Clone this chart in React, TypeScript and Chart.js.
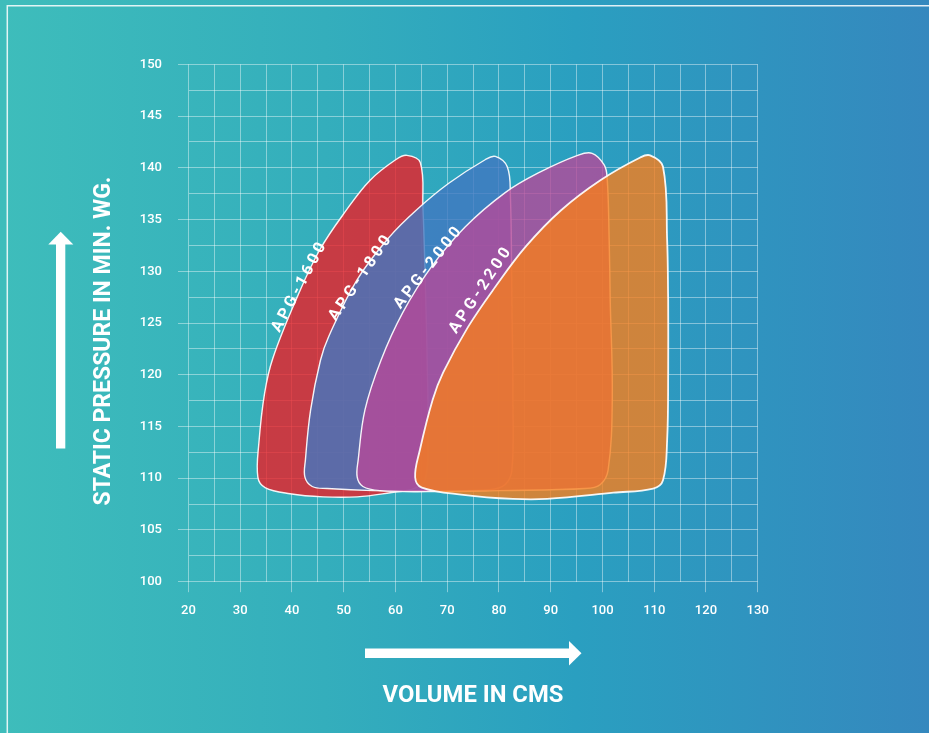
import React, { useEffect, useRef } from 'react';
import { Chart, registerables } from 'chart.js';

Chart.register(...registerables);

// Fan names
const seriesNames = ['APG-1600', 'APG-1800', 'APG-2000', 'APG-2200'];

// Outline of each operating region: [volume (CMS), static pressure (mm WG)]
const apg1600: [number, number][] = [
  [66.1, 122.4], [66.3, 113.7], [65.7, 109.8], [63.6, 109.0], [59.0, 108.6], [52.6, 108.2],
  [46.0, 108.2], [39.6, 108.5], [34.8, 109.1], [33.4, 110.1], [33.6, 113.4], [34.7, 118.2],
  [36.3, 121.6], [41.0, 127.5], [45.4, 132.1], [50.5, 135.9], [55.1, 138.8], [60.1, 140.8],
  [62.2, 141.2], [64.8, 140.5], [65.3, 136.2], [65.7, 130.2], [66.1, 122.4],
];
const apg1800: [number, number][] = [
  [82.5, 127.2], [82.7, 117.6], [82.5, 110.8], [81.2, 109.4], [78.3, 108.9], [66.7, 108.8],
  [55.7, 108.8], [46.8, 109.0], [43.9, 109.2], [42.5, 110.1], [42.6, 111.8], [43.6, 116.6],
  [45.5, 121.4], [47.1, 123.7], [52.6, 129.2], [58.8, 133.3], [64.0, 135.9], [70.3, 138.5],
  [77.4, 140.8], [79.3, 141.1], [81.6, 140.1], [82.2, 137.4], [82.5, 127.2],
];
const apg2000: [number, number][] = [
  [101.5, 127.2], [101.9, 117.6], [101.1, 110.8], [99.6, 109.4], [96.7, 109.0], [80.2, 108.8],
  [66.1, 108.7], [57.0, 108.8], [53.7, 109.2], [52.6, 110.1], [52.8, 111.8], [54.1, 116.6],
  [57.2, 121.4], [61.4, 126.0], [66.9, 130.4], [73.5, 134.3], [81.2, 137.6], [87.6, 139.5],
  [95.2, 141.2], [98.0, 141.4], [100.3, 140.3], [100.9, 139.1], [101.3, 133.0], [101.5, 127.2],
];
const apg2200: [number, number][] = [
  [112.7, 127.2], [112.7, 120.2], [112.5, 113.7], [111.7, 109.8], [109.8, 109.0], [102.1, 108.6],
  [89.3, 108.0], [82.7, 108.0], [73.1, 108.4], [65.1, 109.1], [63.8, 110.1], [64.7, 112.7],
  [67.2, 117.6], [69.2, 120.2], [74.0, 124.6], [79.3, 128.5], [85.2, 132.4], [92.0, 135.9],
  [99.6, 138.8], [107.3, 141.0], [109.2, 141.2], [111.7, 140.1], [112.5, 133.0], [112.7, 127.2],
];

const outlines = [apg1600, apg1800, apg2000, apg2200];

// Label anchors (in data units) and rotation for each fan name
const labelVolume = [41.1, 52.9, 66.0, 76.1];
const labelPressure = [128.5, 129.4, 130.4, 128.2];
const labelAngle = [-62, -56, -52, -56.5];

const xTitle = 'VOLUME IN CMS';
const yTitle = 'STATIC PRESSURE IN MIN. WG.';

const seriesColors = [
  'rgba(236,30,38,0.8)',
  'rgba(65,120,193,0.8)',
  'rgba(183,72,152,0.8)',
  'rgba(248,126,28,0.8)',
];

const W = 929;
const H = 733;

export default function App() {
  const ref = useRef<HTMLCanvasElement>(null);

  useEffect(() => {
    const canvas = ref.current;
    if (!canvas) return;
    const gridColor = 'rgba(255,255,255,0.42)';
    const font = 'Roboto, "Noto Sans", sans-serif';

    const decor = {
      id: 'decor',
      afterDatasetsDraw(chart: any) {
        const ctx = chart.ctx as CanvasRenderingContext2D;
        const xs = chart.scales.x;
        const ys = chart.scales.y;
        ctx.save();
        ctx.fillStyle = '#ffffff';
        ctx.font = `bold 16px ${font}`;
        ctx.textBaseline = 'alphabetic';
        ctx.textAlign = 'left';
        const spacing = 3.4;
        seriesNames.forEach((name, i) => {
          const px = xs.getPixelForValue(labelVolume[i]);
          const py = ys.getPixelForValue(labelPressure[i]);
          const chars = name.split('');
          const widths = chars.map((c) => ctx.measureText(c).width);
          const total = widths.reduce((a, b) => a + b, 0) + spacing * (chars.length - 1);
          ctx.save();
          ctx.translate(px, py);
          ctx.rotate((labelAngle[i] * Math.PI) / 180);
          let cx = -total / 2;
          chars.forEach((c, k) => {
            ctx.fillText(c, cx, 5.7);
            cx += widths[k] + spacing;
          });
          ctx.restore();
        });
        ctx.restore();
      },
      afterDraw(chart: any) {
        const ctx = chart.ctx as CanvasRenderingContext2D;
        ctx.save();
        // frame
        ctx.strokeStyle = 'rgba(255,255,255,0.85)';
        ctx.lineWidth = 1.5;
        ctx.beginPath();
        ctx.moveTo(7.3, H);
        ctx.lineTo(7.3, 5.8);
        ctx.lineTo(W, 5.8);
        ctx.stroke();
        ctx.fillStyle = '#ffffff';
        // vertical arrow
        ctx.fillRect(56, 243.5, 9.3, 205);
        ctx.beginPath();
        ctx.moveTo(48.3, 244.5);
        ctx.lineTo(73.3, 244.5);
        ctx.lineTo(60.7, 231.7);
        ctx.closePath();
        ctx.fill();
        // horizontal arrow
        ctx.fillRect(365, 648.5, 205, 9.5);
        ctx.beginPath();
        ctx.moveTo(569, 641);
        ctx.lineTo(569, 665.5);
        ctx.lineTo(581.5, 653.2);
        ctx.closePath();
        ctx.fill();
        // titles
        ctx.textAlign = 'center';
        ctx.textBaseline = 'alphabetic';
        ctx.font = `bold 23.8px ${font}`;
        ctx.fillText(xTitle, 473, 701.8);
        ctx.font = `bold 23px ${font}`;
        ctx.translate(109.8, 341);
        ctx.rotate(-Math.PI / 2);
        ctx.fillText(yTitle, 0, 0);
        ctx.restore();
      },
    };

    const chart = new Chart(canvas, {
      type: 'line',
      data: {
        datasets: outlines.map((pts, i) => ({
          label: seriesNames[i],
          data: pts.map(([x, y]) => ({ x, y })),
          backgroundColor: seriesColors[i],
          borderColor: 'rgba(255,255,255,0.92)',
          borderWidth: i === 3 ? 1.8 : 1.4,
          fill: 'shape',
          tension: 0.38,
          pointRadius: 0,
          pointHoverRadius: 0,
          borderJoinStyle: 'round',
          order: outlines.length - 1 - i,
        })),
      },
      options: {
        responsive: false,
        animation: false,
        events: [],
        layout: { padding: { top: 64.3, right: 171.3, left: 0, bottom: 0 } },
        plugins: {
          legend: { display: false },
          tooltip: { enabled: false },
        },
        scales: {
          x: {
            type: 'linear',
            min: 20,
            max: 130,
            ticks: {
              stepSize: 5,
              autoSkip: false,
              maxRotation: 0,
              padding: 11,
              color: '#ffffff',
              font: { family: font, size: 13, weight: '500' },
              callback: (v: any) => (Number(v) % 10 === 0 ? String(v) : ''),
            },
            grid: {
              color: gridColor,
              lineWidth: 1,
              tickLength: 10.5,
              tickColor: (c: any) => (c.tick && Number(c.tick.value) % 10 === 0 ? gridColor : 'rgba(0,0,0,0)'),
            },
            border: { display: false },
            afterFit: (s: any) => {
              s.height = H - 581.7;
            },
          },
          y: {
            type: 'linear',
            min: 100,
            max: 150,
            ticks: {
              stepSize: 2.5,
              autoSkip: false,
              padding: 16,
              color: '#ffffff',
              font: { family: font, size: 13, weight: '500' },
              callback: (v: any) => (Number(v) % 5 === 0 ? String(v) : ''),
            },
            grid: {
              color: gridColor,
              lineWidth: 1,
              tickLength: 10.5,
              tickColor: (c: any) => (c.tick && Number(c.tick.value) % 5 === 0 ? gridColor : 'rgba(0,0,0,0)'),
            },
            border: { display: false },
            afterFit: (s: any) => {
              s.width = 188.5;
            },
          },
        },
      } as any,
      plugins: [decor],
    });

    return () => chart.destroy();
  }, []);

  return (
    <div
      style={{
        position: 'fixed',
        left: 0,
        top: 0,
        width: W,
        height: H,
        overflow: 'hidden',
        background: 'linear-gradient(to right, #3ebdbb 0%, #34aebc 35%, #2a9fc0 62%, #3588be 100%)',
      }}
    >
      <canvas ref={ref} width={W} height={H} style={{ display: 'block', width: W, height: H }} />
    </div>
  );
}
